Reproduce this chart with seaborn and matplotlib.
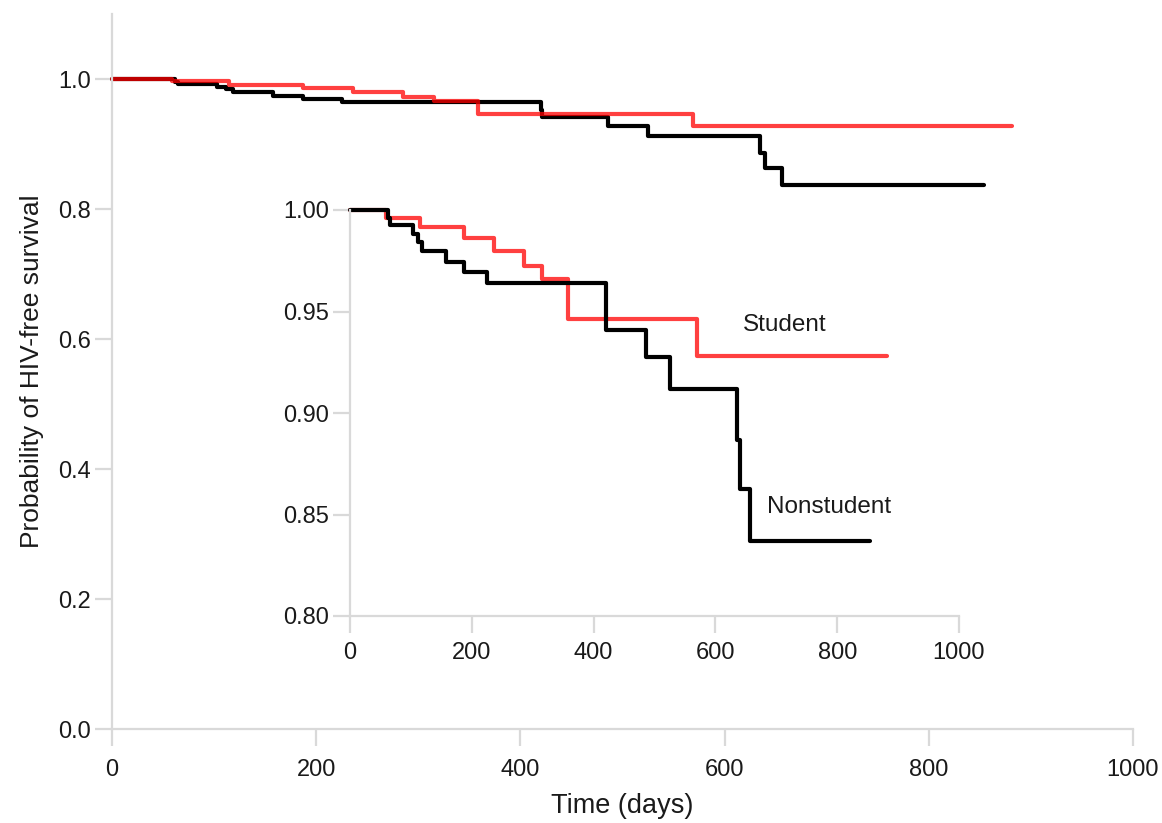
import numpy as np
import pandas as pd
import matplotlib
matplotlib.use("Agg")
import matplotlib.pyplot as plt
import seaborn as sns

# ---- data ----
nonstudent_time = [0, 62, 65, 103, 112, 119, 158, 187, 225, 420, 421, 486, 525, 635, 640, 656, 854]
nonstudent_surv = [1.0, 0.996, 0.9926, 0.988, 0.984, 0.980, 0.9746, 0.9693, 0.964,
                   0.9523, 0.941, 0.9274, 0.912, 0.8867, 0.8624, 0.8371, 0.8371]
student_time = [0, 59, 115, 187, 236, 285, 315, 358, 569, 881]
student_surv = [1.0, 0.9962, 0.9915, 0.986, 0.980, 0.9726, 0.9659, 0.9461, 0.928, 0.928]

main_yticks = [0.0, 0.2, 0.4, 0.6, 0.8, 1.0]
main_xticks = [0, 200, 400, 600, 800, 1000]
inset_yticks = [0.80, 0.85, 0.90, 0.95, 1.00]
inset_xticks = [0, 200, 400, 600, 800, 1000]

df_non = pd.DataFrame({"time": nonstudent_time, "surv": nonstudent_surv})
df_stu = pd.DataFrame({"time": student_time, "surv": student_surv})

sns.set_theme(style="white")
plt.rcParams["font.family"] = ["Liberation Sans", "DejaVu Sans"]

W, H = 1162, 823
fig = plt.figure(figsize=(W / 100, H / 100), dpi=100)

spine_col = "#d9d9d9"
text_col = "#1a1a1a"
red = (1.0, 0.0, 0.0)
LW = 3.0


def style_axes(ax, fs, xpad):
    for s in ["top", "right"]:
        ax.spines[s].set_visible(False)
    for s in ["left", "bottom"]:
        ax.spines[s].set_color(spine_col)
        ax.spines[s].set_linewidth(1.6)
    ax.tick_params(axis="both", which="major", direction="out", length=12,
                   width=1.6, color=spine_col, labelsize=fs, labelcolor=text_col,
                   bottom=True, left=True)
    ax.tick_params(axis="x", pad=xpad)
    ax.tick_params(axis="y", pad=3)


# ---- main axes ----
ax = fig.add_axes([112 / W, 1 - 729 / H, (1133 - 112) / W, (729 - 14) / H])
sns.lineplot(data=df_non, x="time", y="surv", drawstyle="steps-post", color="black",
             linewidth=LW, ax=ax, estimator=None, clip_on=False)
sns.lineplot(data=df_stu, x="time", y="surv", drawstyle="steps-post", color=red,
             alpha=0.75, linewidth=LW, ax=ax, estimator=None, clip_on=False)
ax.set_xlim(0, 1000)
ax.set_ylim(0, 1.1)
ax.set_xticks(main_xticks)
ax.set_yticks(main_yticks)
ax.set_yticklabels([f"{v:.1f}" for v in main_yticks])
ax.set_xticklabels([str(v) for v in main_xticks])
style_axes(ax, 17, 9.5)
ax.set_xlabel("Time (days)", fontsize=19.5, color=text_col, labelpad=9)
ax.set_ylabel("Probability of HIV-free survival", fontsize=19, color=text_col, labelpad=10)

# ---- inset axes ----
ia = fig.add_axes([350 / W, 1 - 616 / H, (959 - 350) / W, (616 - 210) / H])
ia.patch.set_alpha(0)
sns.lineplot(data=df_stu, x="time", y="surv", drawstyle="steps-post", color=red,
             alpha=0.75, linewidth=LW, ax=ia, estimator=None, clip_on=False)
sns.lineplot(data=df_non, x="time", y="surv", drawstyle="steps-post", color="black",
             linewidth=LW, ax=ia, estimator=None, clip_on=False)
ia.set_xlim(0, 1000)
ia.set_ylim(0.80, 1.0)
ia.set_xticks(inset_xticks)
ia.set_yticks(inset_yticks)
ia.set_yticklabels([f"{v:.2f}" for v in inset_yticks])
ia.set_xticklabels([str(v) for v in inset_xticks])
style_axes(ia, 17, 6.5)
ia.set_xlabel("")
ia.set_ylabel("")
ia.text(714, 0.9433, "Student", fontsize=17.5, color=text_col, ha="center", va="center")
ia.text(786, 0.8537, "Nonstudent", fontsize=17.5, color=text_col, ha="center", va="center")

fig.savefig("out.png", dpi=100)
